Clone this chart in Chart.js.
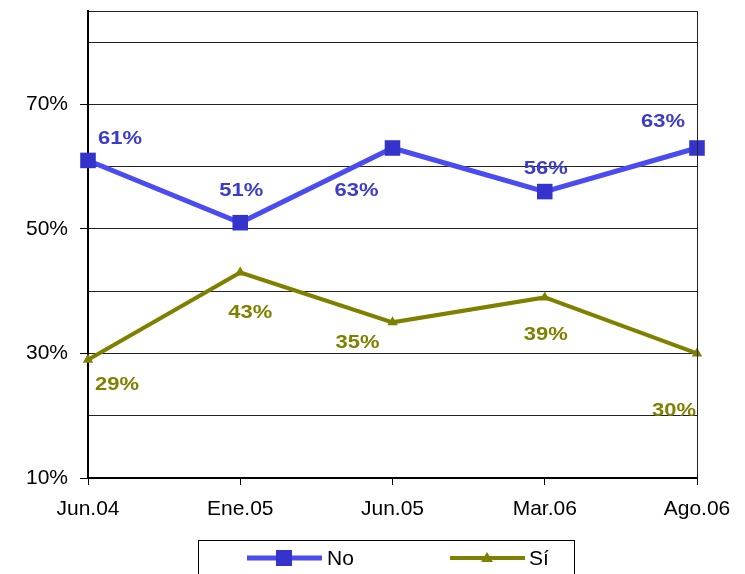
<!DOCTYPE html>
<html>
<head>
<meta charset="utf-8">
<script src="https://cdn.jsdelivr.net/npm/chart.js@4.4.1/dist/chart.umd.min.js"></script>
<style>
  html, body { margin: 0; padding: 0; background: #fff; }
  #wrap { width: 745px; height: 574px; }
</style>
</head>
<body>
<div id="wrap"><canvas id="surveyChart" width="745" height="574"></canvas></div>
<script>
// data
const categories = ["Jun.04", "Ene.05", "Jun.05", "Mar.06", "Ago.06"];
const noValues = [61, 51, 63, 56, 63];
const siValues = [29, 43, 35, 39, 30];
const seriesNames = ["No", "Sí"];

// where each value label sits relative to its point (px)
const noLabelOffsets = [[32, -21], [1, -32], [-36, 43], [1, -23], [-34, -26]];
const siLabelOffsets = [[29, 25], [10, 41], [-35, 21], [1, 38], [-23, 58]];

const FONT = "'Liberation Sans', Arial, sans-serif";

// value labels, Excel style: bold, slightly wide
const valueLabels = {
    id: 'valueLabels',
    afterDatasetsDraw(chart) {
        const ctx = chart.ctx;
        const offsets = [noLabelOffsets, siLabelOffsets];
        chart.data.datasets.forEach(function(ds, i) {
            const meta = chart.getDatasetMeta(i);
            meta.data.forEach(function(pt, j) {
                const off = offsets[i][j];
                ctx.save();
                ctx.translate(pt.x + off[0], pt.y + off[1]);
                ctx.scale(1.22, 1);
                ctx.font = "bold 18px " + FONT;
                ctx.fillStyle = ds.labelColor;
                ctx.textAlign = "center";
                ctx.textBaseline = "middle";
                ctx.fillText(ds.data[j] + "%", 0, 0);
                ctx.restore();
            });
        });
    },
    afterDraw(chart) {
        const ctx = chart.ctx;
        const area = chart.chartArea;
        // right frame line of the plot area
        ctx.save();
        ctx.strokeStyle = "#222";
        ctx.lineWidth = 1;
        ctx.beginPath();
        ctx.moveTo(area.right + 0.5, area.top);
        ctx.lineTo(area.right + 0.5, area.bottom);
        ctx.stroke();

        // boxed legend at the bottom
        ctx.strokeStyle = "#000";
        ctx.lineWidth = 1;
        ctx.strokeRect(198.5, 540.5, 376, 50);
        const items = [{x: 247, textX: 327}, {x: 450, textX: 529}];
        const y = 558;
        chart.data.datasets.forEach(function(ds, i) {
            const it = items[i];
            ctx.strokeStyle = ds.borderColor;
            ctx.lineWidth = ds.borderWidth;
            ctx.beginPath();
            ctx.moveTo(it.x, y);
            ctx.lineTo(it.x + 75, y);
            ctx.stroke();
            const cx = it.x + 37;
            ctx.fillStyle = ds.pointBackgroundColor;
            if (ds.pointStyle === 'rect') {
                ctx.fillRect(cx - 8, y - 8, 16, 16);
            } else {
                ctx.beginPath();
                ctx.moveTo(cx, y - 6);
                ctx.lineTo(cx + 6, y + 4);
                ctx.lineTo(cx - 6, y + 4);
                ctx.closePath();
                ctx.fill();
            }
            ctx.fillStyle = "#000";
            ctx.font = "21px " + FONT;
            ctx.textAlign = "left";
            ctx.textBaseline = "middle";
            ctx.fillText(ds.label, it.textX, y + 1);
        });
        ctx.restore();
    }
};

let ctx = document.getElementById("surveyChart").getContext('2d');
let myChart = new Chart(ctx, {
    type: 'line',
    data: {
        labels: categories,
        datasets: [{
            label: seriesNames[0],
            data: noValues,
            borderColor: '#4B4BF2',
            borderWidth: 5,
            pointStyle: 'rect',
            pointRadius: 11,
            pointBackgroundColor: '#3434CC',
            pointBorderColor: '#3434CC',
            pointBorderWidth: 0,
            labelColor: '#3B3BCC',
            tension: 0,
            clip: false
        }, {
            label: seriesNames[1],
            data: siValues,
            borderColor: '#808000',
            borderWidth: 4,
            pointStyle: 'triangle',
            pointRadius: 6,
            pointBackgroundColor: '#808000',
            pointBorderColor: '#808000',
            pointBorderWidth: 0,
            labelColor: '#808000',
            tension: 0,
            clip: false
        }]
    },
    options: {
        responsive: false,
        animation: false,
        layout: {
            padding: { left: 0, top: 9, right: 48, bottom: 0 }
        },
        plugins: {
            legend: { display: false },
            tooltip: { enabled: false }
        },
        scales: {
            x: {
                offset: false,
                afterFit: function(scale) { scale.height = 96; },
                grid: {
                    drawOnChartArea: false,
                    drawTicks: true,
                    tickLength: 7,
                    tickColor: '#000'
                },
                border: { display: true, color: '#000', width: 2 },
                ticks: {
                    color: '#000',
                    font: { family: FONT, size: 21 },
                    padding: 12,
                    maxRotation: 0
                }
            },
            y: {
                min: 10,
                max: 85,
                afterFit: function(scale) {
                    scale.width = 88;
                    scale.paddingTop = 0;
                    scale.paddingBottom = 0;
                },
                grid: {
                    color: '#222',
                    lineWidth: 1,
                    tickLength: 8,
                    tickColor: function(c) {
                        return (c.tick && (c.tick.value - 10) % 20 === 0) ? '#000' : 'rgba(0,0,0,0)';
                    }
                },
                border: { display: true, color: '#000', width: 2 },
                ticks: {
                    stepSize: 10,
                    autoSkip: false,
                    color: '#000',
                    padding: 12,
                    font: { family: FONT, size: 21 },
                    callback: function(v) {
                        return (v - 10) % 20 === 0 ? v + '%' : '';
                    }
                }
            }
        }
    },
    plugins: [valueLabels]
});
</script>
</body>
</html>
